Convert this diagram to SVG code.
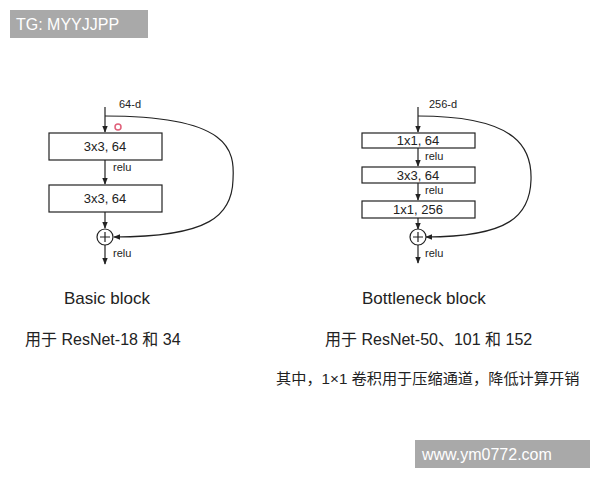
<svg xmlns="http://www.w3.org/2000/svg" width="600" height="480" viewBox="0 0 600 480">
<style>
.b{fill:#fff;stroke:#222;stroke-width:1.2}
.l{stroke:#222;stroke-width:1.2;fill:none}
.t{font-family:"Liberation Sans",Arial,sans-serif;font-size:11px;fill:#222}
.bt{font-family:"Liberation Sans",Arial,sans-serif;font-size:13px;fill:#222;text-anchor:middle}
.c{font-family:"Liberation Sans","Noto Sans CJK SC",sans-serif;font-size:16px;fill:#222}
</style>
<defs><marker id="a" viewBox="0 0 10 10" refX="9" refY="5" markerWidth="6" markerHeight="6" orient="auto"><path d="M0,1 L10,5 L0,9z" fill="#222"/></marker></defs>
<rect width="600" height="480" fill="#fff"/>
<g id="wm1"><rect x="10" y="10" width="138" height="28" fill="#a9a9a9"/><text x="16" y="30" font-family="Liberation Sans,sans-serif" font-size="16" fill="#fff">TG: MYYJJPP</text></g>
<g id="wm2"><rect x="415" y="440" width="175" height="28" fill="#a9a9a9"/><text x="422" y="460" font-family="Liberation Sans,sans-serif" font-size="16" fill="#fff">www.ym0772.com</text></g>
<g id="connectors">
<path class="l" d="M105,107 V132" marker-end="url(#a)"/>
<path class="l" d="M105,160 V184" marker-end="url(#a)"/>
<path class="l" d="M105,212 V228" marker-end="url(#a)"/>
<path class="l" d="M105,245 V264" marker-end="url(#a)"/>
<path class="l" d="M105,116 C230,116 235,150 233,180 C232,215 210,237 114,237" marker-end="url(#a)"/>
<path class="l" d="M418,107 V132" marker-end="url(#a)"/>
<path class="l" d="M418,148 V166" marker-end="url(#a)"/>
<path class="l" d="M418,183 V200" marker-end="url(#a)"/>
<path class="l" d="M418,218 V229" marker-end="url(#a)"/>
<path class="l" d="M418,245 V263" marker-end="url(#a)"/>
<path class="l" d="M418,116 C520,116 532,150 531,180 C530,215 510,237 426,237" marker-end="url(#a)"/>
</g>
<circle cx="118" cy="127" r="3" fill="none" stroke="#e0607a" stroke-width="1.5"/>
<g id="basic">
<text class="t" x="119" y="108">64-d</text>
<rect class="b" x="49" y="133" width="113" height="27"/><text class="bt" x="105" y="151">3x3, 64</text>
<text class="t" x="113" y="171">relu</text>
<rect class="b" x="49" y="185" width="113" height="27"/><text class="bt" x="105" y="203">3x3, 64</text>
<circle class="b" cx="105" cy="237" r="8"/><path class="l" d="M100,237 H110 M105,232 V242"/>
<text class="t" x="113" y="257">relu</text>
</g>
<g id="bottleneck">
<text class="t" x="429" y="108">256-d</text>
<rect class="b" x="362" y="133" width="113" height="15"/><text class="bt" x="418" y="145">1x1, 64</text>
<text class="t" x="425" y="160">relu</text>
<rect class="b" x="362" y="167" width="113" height="16"/><text class="bt" x="418" y="180">3x3, 64</text>
<text class="t" x="425" y="194">relu</text>
<rect class="b" x="362" y="201" width="113" height="17"/><text class="bt" x="418" y="214">1x1, 256</text>
<circle class="b" cx="418" cy="237" r="8"/><path class="l" d="M413,237 H423 M418,232 V242"/>
<text class="t" x="425" y="257">relu</text>
</g>
<text class="c" x="64" y="304" style="font-size:17px">Basic block</text>
<text class="c" x="362" y="304" style="font-size:17px">Bottleneck block</text>
<text class="c" x="25" y="345">用于 ResNet-18 和 34</text>
<text class="c" x="325" y="345">用于 ResNet-50、101 和 152</text>
<text class="c" x="276" y="384" style="font-size:15.2px">其中，1×1 卷积用于压缩通道，降低计算开销</text>
</svg>
